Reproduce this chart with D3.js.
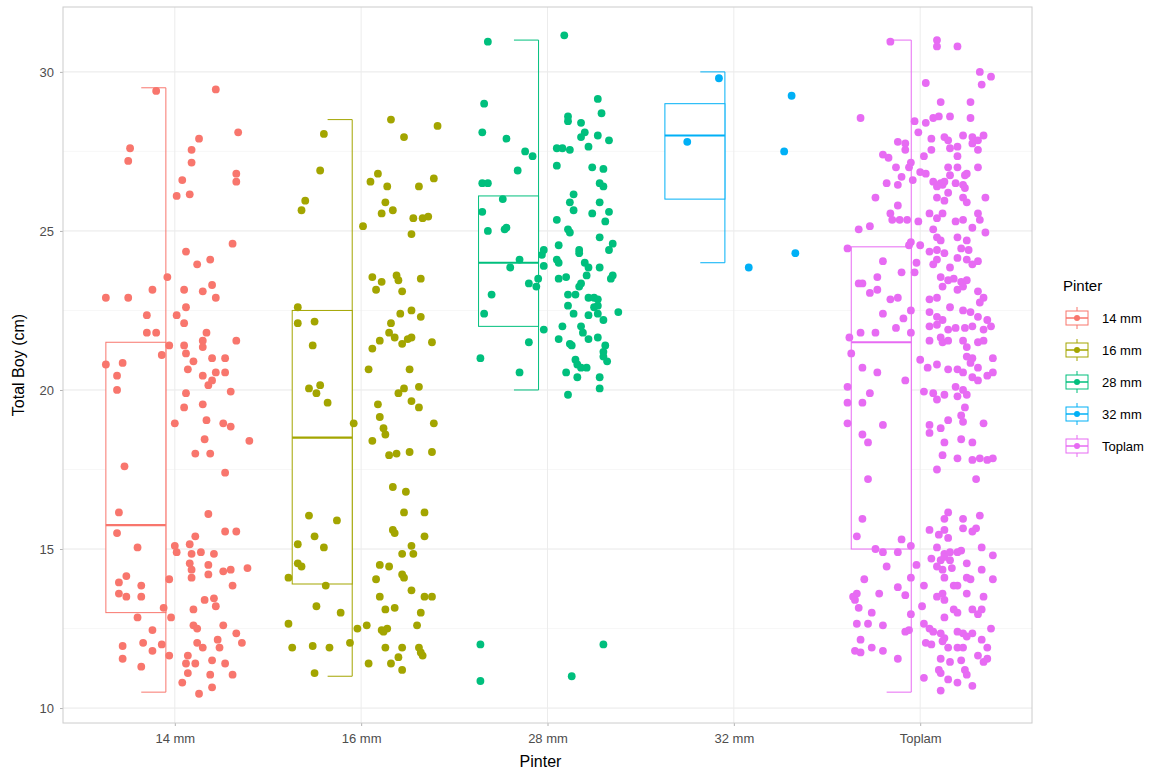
<!DOCTYPE html>
<html>
<head>
<meta charset="utf-8">
<script src="https://cdn.jsdelivr.net/npm/d3@7"></script>
<style>
  body { margin: 0; background: #fff; }
  text { font-family: "Liberation Sans", Arial, sans-serif; }
</style>
</head>
<body>
<div class="grap"></div>
<script>
// categories + colours (ggplot hue palette)
const categories = ["14 mm", "16 mm", "28 mm", "32 mm", "Toplam"];
const colors = ["#F8766D", "#A3A500", "#00BF7D", "#00B0F6", "#E76BF3"];

// boxplot stats
const whiskerLow  = [10.5, 11.0, 20.0, 24.0, 10.5];
const q1          = [13.0, 13.9, 22.0, 26.0, 15.0];
const median      = [15.75, 18.5, 24.0, 28.0, 21.5];
const q3          = [21.5, 22.5, 26.1, 29.0, 24.5];
const whiskerHigh = [29.5, 28.5, 31.0, 30.0, 31.0];

const yTicks = [10, 15, 20, 25, 30];
const yMinor = [12.5, 17.5, 22.5, 27.5];

// jittered points: [jitter (category units), Total Boy]
const pts14 = [[-0.10,29.4],[0.22,29.45],[0.34,28.1],[0.13,27.9],[-0.24,27.6],[0.09,27.55],[-0.25,27.2],[0.09,27.15],
[0.33,26.8],[0.33,26.55],[0.04,26.6],[0.01,26.1],[0.08,26.15],[0.31,24.6],[0.06,24.35],[0.12,23.95],[0.19,24.1],
[-0.04,23.55],[0.20,23.3],[-0.37,22.9],[-0.25,22.9],[-0.12,23.15],[0.05,23.15],[0.15,23.1],[0.22,22.9],[0.06,22.6],
[0.01,22.35],[0.05,22.1],[-0.15,22.35],[-0.15,21.8],[-0.10,21.8],[0.17,21.8],[0.15,21.55],[0.15,21.35],[0.33,21.55],
[-0.03,21.4],[-0.07,21.1],[0.05,21.4],[0.06,21.15],[-0.37,20.8],[-0.28,20.85],[0.10,20.9],[0.20,21.0],[0.27,21.0],
[0.07,20.65],[0.15,20.45],[0.22,20.55],[0.27,20.55],[0.20,20.3],[0.18,20.15],[-0.31,20.45],[-0.31,20.0],[0.06,19.9],
[0.30,19.95],[0.05,19.45],[0.15,19.55],[0.00,18.95],[0.17,19.05],[0.26,18.95],[0.30,18.85],[0.40,18.4],[0.16,18.45],
[0.11,18.0],[0.19,18.0],[0.27,17.4],[-0.27,17.6],[-0.30,16.15],[0.18,16.1],[-0.31,15.5],[0.27,15.55],[0.33,15.55],
[0.11,15.4],[0.00,15.1],[0.01,14.9],[0.08,15.15],[0.09,14.85],[0.14,14.9],[0.21,14.85],[-0.20,15.05],[0.08,14.55],
[0.09,14.35],[0.09,14.1],[0.18,14.5],[0.18,14.2],[0.26,14.3],[0.30,14.35],[0.39,14.4],[-0.03,14.05],[0.31,13.85],
[-0.26,14.15],[-0.30,13.95],[-0.18,13.85],[-0.18,13.5],[-0.30,13.6],[-0.26,13.5],[0.16,13.4],[0.21,13.45],[0.22,13.2],
[-0.06,13.15],[-0.20,12.85],[-0.02,12.85],[0.10,13.1],[0.10,12.6],[0.12,12.5],[0.26,12.6],[0.33,12.35],[0.36,12.05],
[-0.12,12.45],[-0.12,11.8],[-0.17,12.05],[-0.07,12.0],[-0.28,11.95],[-0.28,11.55],[0.12,12.05],[0.15,11.9],[0.23,12.15],
[0.24,11.9],[-0.03,11.65],[0.07,11.65],[0.06,11.4],[0.11,11.4],[0.20,11.5],[0.27,11.4],[-0.18,11.3],[0.07,11.1],
[0.04,10.8],[0.19,11.05],[0.31,11.05],[0.13,10.45],[0.20,10.65]];

const pts16 = [[-0.20,28.05],[0.16,28.5],[0.23,27.95],[0.41,28.3],[-0.22,26.9],[0.09,26.8],[0.05,26.55],[0.14,26.4],
[0.31,26.4],[0.39,26.65],[-0.30,25.95],[-0.32,25.65],[0.13,25.9],[0.11,25.55],[0.17,25.65],[0.28,25.4],[0.33,25.4],
[0.36,25.45],[0.01,25.15],[0.27,24.9],[0.06,23.55],[0.11,23.4],[0.19,23.6],[0.20,23.45],[0.32,23.5],[0.08,23.15],
[0.22,23.1],[-0.34,22.6],[-0.34,22.1],[-0.25,22.15],[0.21,22.4],[0.27,22.5],[0.32,22.3],[0.16,22.1],[0.15,21.8],
[0.18,21.65],[0.22,21.45],[0.25,21.6],[0.27,21.65],[0.38,21.5],[0.10,21.55],[0.06,21.3],[-0.26,21.4],[0.04,20.65],
[0.26,20.65],[-0.28,20.05],[-0.22,20.15],[-0.24,19.9],[0.20,19.9],[0.23,20.05],[0.31,20.1],[-0.18,19.6],[0.27,19.65],
[0.31,19.45],[0.09,19.55],[0.10,19.15],[0.12,18.8],[0.13,18.6],[0.39,18.95],[-0.04,18.95],[0.06,18.4],[0.15,17.95],
[0.19,18.0],[0.26,18.05],[0.38,18.05],[0.17,16.95],[0.24,16.8],[0.23,16.15],[0.34,16.15],[-0.28,16.05],[-0.13,15.9],
[0.17,15.6],[0.18,15.5],[0.34,15.4],[-0.25,15.4],[-0.20,15.05],[-0.34,15.15],[0.22,14.85],[0.27,15.1],[0.28,14.85],
[-0.34,14.55],[-0.32,14.45],[0.10,14.5],[0.15,14.45],[-0.39,14.1],[0.22,14.2],[0.23,14.1],[0.08,14.05],[-0.19,13.85],
[0.27,13.7],[0.10,13.5],[0.34,13.5],[0.38,13.5],[-0.24,13.2],[-0.11,13.0],[0.13,13.1],[0.18,13.15],[0.32,13.0],
[-0.39,12.65],[-0.02,12.5],[0.03,12.6],[0.11,12.45],[0.14,12.5],[0.12,12.4],[0.30,12.6],[-0.37,11.9],[-0.26,11.95],
[-0.17,11.9],[-0.06,12.05],[0.13,11.9],[0.22,11.9],[0.20,11.6],[0.31,11.9],[0.32,11.75],[0.33,11.65],[0.04,11.4],
[0.16,11.4],[0.22,11.2],[-0.25,11.1]];

const pts28 = [[-0.32,30.95],[0.09,31.15],[-0.34,29.0],[-0.35,28.1],[-0.22,27.9],[-0.12,27.5],[-0.08,27.35],[-0.16,26.9],
[-0.35,26.5],[-0.32,26.5],[-0.24,26.0],[-0.35,25.6],[-0.32,25.0],[-0.23,25.05],[-0.22,25.1],[-0.15,24.1],[-0.20,23.85],
[-0.10,23.35],[-0.06,23.25],[-0.05,23.5],[-0.30,23.0],[-0.34,22.4],[-0.36,21.0],[-0.15,20.55],[-0.10,21.5],
[0.27,29.15],[0.29,28.7],[0.11,28.6],[0.11,28.45],[0.18,28.4],[0.20,28.1],[0.18,27.95],[0.27,28.0],[0.33,27.85],
[0.22,27.65],[0.05,27.6],[0.08,27.6],[0.12,27.55],[0.05,27.05],[0.24,27.0],[0.30,26.95],[0.28,26.5],[0.30,26.4],
[0.14,26.15],[0.12,25.9],[0.14,25.65],[0.28,25.9],[0.24,25.55],[0.33,25.6],[0.31,25.3],[0.05,25.35],[0.11,25.05],
[0.12,24.95],[0.28,24.8],[0.35,24.6],[0.33,24.4],[-0.02,24.4],[-0.03,24.25],[0.06,24.55],[0.17,24.4],[0.17,24.3],
[0.05,24.1],[0.06,24.0],[-0.02,23.9],[0.20,24.0],[0.22,23.85],[0.21,23.6],[0.28,23.85],[0.35,23.6],[0.34,23.5],
[0.06,23.5],[0.10,23.55],[0.18,23.35],[0.17,23.25],[0.11,23.0],[0.15,23.0],[0.22,22.9],[0.25,22.9],[0.27,22.85],
[0.11,22.65],[0.25,22.6],[0.27,22.65],[0.14,22.4],[0.22,22.35],[0.27,22.4],[0.30,22.2],[0.38,22.45],[-0.02,21.9],
[0.08,22.0],[0.06,21.6],[0.18,22.0],[0.19,21.8],[0.22,21.6],[0.27,21.65],[0.31,21.4],[0.12,21.45],[0.13,21.4],
[0.30,21.2],[0.30,21.05],[0.32,20.9],[0.15,20.95],[0.16,20.8],[0.18,20.7],[0.21,20.7],[0.10,20.55],[0.16,20.4],
[0.28,20.4],[0.28,20.05],[0.11,19.85],[-0.36,12.0],[-0.36,10.85],[0.13,11.0],[0.30,12.0]];

const pts32 = [[-0.08,29.8],[0.31,29.25],[-0.25,27.8],[0.27,27.5],[0.33,24.3],[0.08,23.85]];

const ptsToplam = [[-0.16,30.95],[0.09,31.0],[0.09,30.8],[0.20,30.8],[0.32,30.0],[0.38,29.85],[0.33,29.6],[0.03,29.65],
[0.11,29.05],[0.27,29.05],[-0.32,28.55],[0.27,28.55],[-0.03,28.45],[0.03,28.4],[0.07,28.55],[0.10,28.6],[0.16,28.6],
[-0.01,28.1],[-0.12,27.8],[-0.08,27.75],[-0.08,27.55],[0.06,27.9],[0.13,27.95],[0.15,27.85],[0.20,27.65],[0.16,27.6],
[0.23,28.0],[0.28,27.95],[0.34,28.0],[0.31,27.85],[0.28,27.75],[0.31,27.55],[0.06,27.55],[0.02,27.35],[-0.20,27.4],
[-0.17,27.3],[0.20,27.35],[-0.13,27.0],[-0.05,27.15],[-0.06,27.0],[0.15,27.0],[0.20,27.0],[0.31,27.0],[0.00,26.85],
[0.03,26.8],[0.16,26.75],[0.25,26.8],[0.24,26.75],[-0.10,26.7],[-0.12,26.45],[-0.04,26.6],[-0.18,26.5],[0.07,26.55],
[0.11,26.5],[0.12,26.45],[0.09,26.4],[0.13,26.55],[0.19,26.5],[0.23,26.45],[0.24,26.35],[-0.24,26.05],[0.15,26.2],
[0.13,25.95],[0.09,26.05],[0.23,26.05],[0.25,25.9],[0.35,26.05],[-0.12,25.8],[-0.16,25.55],[-0.15,25.35],[-0.11,25.35],
[-0.07,25.35],[-0.01,25.3],[0.05,25.55],[0.09,25.4],[0.12,25.55],[0.19,25.3],[0.23,25.35],[0.31,25.55],[0.32,25.35],
[0.35,24.95],[-0.33,25.05],[-0.27,25.15],[0.07,25.05],[0.09,24.8],[0.11,24.7],[0.20,24.8],[0.25,24.7],[0.28,25.1],
[-0.05,24.65],[0.00,24.55],[0.05,24.35],[0.09,24.4],[0.22,24.45],[0.26,24.4],[-0.39,24.45],[-0.06,24.55],[-0.20,24.05],
[-0.23,23.55],[-0.10,23.7],[-0.33,23.35],[-0.31,23.35],[-0.27,23.05],[-0.23,23.15],[-0.16,22.85],[-0.12,22.9],
[-0.20,22.4],[-0.09,22.25],[-0.05,22.5],[-0.13,21.95],[-0.38,21.65],[-0.32,21.8],[-0.24,21.8],[-0.05,21.8],[-0.02,24.0],
[-0.03,23.7],[0.09,24.1],[0.07,23.95],[0.13,24.3],[0.16,23.85],[0.20,24.15],[0.25,24.1],[0.28,23.95],[0.31,24.05],
[0.11,23.55],[0.15,23.45],[0.18,23.5],[0.22,23.4],[0.25,23.45],[0.12,23.25],[0.20,23.15],[0.23,23.25],[0.05,22.85],
[0.09,22.9],[0.31,23.1],[0.34,22.9],[0.32,22.75],[0.05,22.45],[0.09,22.3],[0.12,22.2],[0.16,22.6],[0.23,22.5],
[0.27,22.45],[0.31,22.3],[0.36,22.2],[0.05,22.0],[0.09,22.05],[0.15,21.9],[0.19,21.95],[0.24,21.95],[0.28,22.0],
[0.34,21.9],[0.38,22.0],[0.05,21.55],[0.11,21.65],[0.12,21.5],[0.15,21.55],[0.23,21.55],[0.25,21.35],[0.31,21.5],
[0.34,21.55],[0.00,20.95],[0.04,20.7],[0.09,20.8],[0.15,20.65],[0.20,20.65],[0.25,21.05],[0.27,20.85],[0.28,21.0],
[0.31,20.7],[0.39,21.0],[0.39,20.55],[0.36,20.45],[0.23,20.55],[0.28,20.4],[0.31,20.3],[-0.37,21.15],[-0.31,20.7],
[-0.23,20.55],[-0.08,20.3],[-0.39,20.1],[-0.39,19.6],[-0.31,19.6],[-0.27,19.9],[0.02,19.95],[0.07,19.9],[0.09,19.7],
[0.13,19.85],[0.19,20.1],[0.23,20.0],[0.25,19.85],[0.20,19.8],[-0.39,18.95],[-0.20,18.9],[0.05,18.9],[0.11,18.8],
[0.05,18.65],[0.15,19.05],[0.22,19.2],[0.23,19.0],[0.24,19.45],[0.34,18.95],[-0.31,18.6],[-0.28,18.35],[0.13,18.35],
[0.22,18.45],[0.28,18.35],[0.12,17.95],[0.20,17.85],[0.09,17.5],[0.28,17.8],[0.32,17.85],[0.36,17.8],[0.39,17.85],
[-0.28,17.2],[0.30,17.2],[-0.31,15.95],[0.15,16.15],[0.13,15.95],[0.23,15.95],[0.32,16.05],[0.05,15.6],[0.10,15.45],
[0.13,15.6],[0.15,15.35],[0.23,15.65],[0.28,15.55],[0.30,15.65],[-0.34,15.4],[-0.10,15.3],[0.09,15.05],[0.13,14.85],
[0.16,14.9],[0.20,14.9],[0.22,14.95],[0.33,15.05],[0.39,14.8],[-0.24,15.0],[-0.20,14.9],[-0.12,14.9],[-0.05,15.1],
[0.06,14.7],[0.11,14.65],[0.13,14.75],[0.16,14.65],[-0.02,14.5],[-0.18,14.45],[0.09,14.45],[0.12,14.35],[0.17,14.4],
[0.25,14.55],[0.33,14.35],[0.13,14.1],[-0.05,14.1],[-0.30,14.05],[0.25,14.1],[0.27,14.05],[0.39,14.05],[0.02,13.85],
[0.18,13.85],[0.20,13.85],[-0.12,13.8],[-0.34,13.6],[-0.35,13.4],[-0.36,13.5],[-0.22,13.6],[-0.08,13.55],[0.09,13.5],
[0.12,13.6],[0.13,13.4],[0.25,13.6],[0.34,13.5],[0.01,13.2],[-0.33,13.15],[-0.26,13.0],[0.18,13.1],[0.20,13.0],
[0.28,13.1],[0.33,13.1],[0.31,12.95],[0.13,12.85],[-0.05,12.95],[-0.34,12.65],[-0.28,12.65],[-0.20,12.6],[0.02,12.65],
[0.05,12.5],[0.07,12.4],[0.11,12.35],[0.13,12.2],[0.12,12.1],[0.20,12.4],[0.23,12.35],[0.25,12.25],[0.28,12.35],
[0.38,12.5],[-0.08,12.4],[-0.06,12.45],[-0.32,12.15],[0.03,12.05],[0.06,12.0],[0.15,11.9],[0.20,11.9],[0.23,11.9],
[0.33,12.15],[0.36,11.9],[-0.35,11.8],[-0.32,11.75],[-0.26,11.9],[-0.20,11.8],[-0.12,11.55],[0.11,11.55],[0.16,11.45],
[0.22,11.5],[0.31,11.65],[0.36,11.55],[0.34,11.45],[0.10,11.2],[0.11,11.1],[0.24,11.2],[0.25,11.05],[0.02,10.95],
[0.15,10.9],[0.20,10.8],[0.28,10.7],[0.11,10.55]];

const pointSets = [pts14, pts16, pts28, pts32, ptsToplam];

const W = 1169, H = 778;
const margin = { top: 7, right: 137, bottom: 55, left: 63 };

const svg = d3.select(".grap").append("svg")
  .attr("width", W).attr("height", H);

const x = d3.scalePoint()
  .domain(categories)
  .range([margin.left, W - margin.right])
  .padding(0.6);
const step = x.step();

const y = d3.scaleLinear()
  .domain([9.53, 32.04])
  .range([H - margin.bottom, margin.top]);

// grid
const grid = svg.append("g");
grid.selectAll(".minor").data(yMinor).join("line")
  .attr("x1", margin.left).attr("x2", W - margin.right)
  .attr("y1", d => y(d)).attr("y2", d => y(d))
  .attr("stroke", "#f2f2f2").attr("stroke-width", 0.6);
grid.selectAll(".major").data(yTicks).join("line")
  .attr("x1", margin.left).attr("x2", W - margin.right)
  .attr("y1", d => y(d)).attr("y2", d => y(d))
  .attr("stroke", "#e8e8e8").attr("stroke-width", 1);
grid.selectAll(".vmajor").data(categories).join("line")
  .attr("x1", d => x(d)).attr("x2", d => x(d))
  .attr("y1", margin.top).attr("y2", H - margin.bottom)
  .attr("stroke", "#ececec").attr("stroke-width", 1);

// axes
const yAxis = g => g
  .attr("transform", `translate(${margin.left},0)`)
  .call(d3.axisLeft(y).tickValues(yTicks).tickSize(3).tickPadding(6))
  .call(g => g.select(".domain").remove())
  .call(g => g.selectAll(".tick line").attr("stroke", "#b3b3b3"))
  .call(g => g.selectAll(".tick text").attr("fill", "#4d4d4d").attr("font-size", 13)
    .attr("font-family", "Liberation Sans, Arial, sans-serif"));

const xAxis = g => g
  .attr("transform", `translate(0,${H - margin.bottom})`)
  .call(d3.axisBottom(x).tickSize(3).tickPadding(8))
  .call(g => g.select(".domain").remove())
  .call(g => g.selectAll(".tick line").attr("stroke", "#b3b3b3"))
  .call(g => g.selectAll(".tick text").attr("fill", "#4d4d4d").attr("font-size", 13)
    .attr("font-family", "Liberation Sans, Arial, sans-serif"));

svg.append("g").call(yAxis);
svg.append("g").call(xAxis);

// boxplots (half, left of centre, whisker on the right edge)
const boxL = -0.37, boxR = -0.048, capL = -0.18;
const boxes = svg.append("g");
categories.forEach((c, i) => {
  const cx = x(c);
  const g = boxes.append("g")
    .attr("stroke", colors[i]).attr("fill", "none");
  g.append("line")
    .attr("x1", cx + boxR * step).attr("x2", cx + boxR * step)
    .attr("y1", y(whiskerLow[i])).attr("y2", y(whiskerHigh[i]))
    .attr("stroke-width", 1);
  g.append("line")
    .attr("x1", cx + capL * step).attr("x2", cx + boxR * step)
    .attr("y1", y(whiskerHigh[i])).attr("y2", y(whiskerHigh[i]));
  g.append("line")
    .attr("x1", cx + capL * step).attr("x2", cx + boxR * step)
    .attr("y1", y(whiskerLow[i])).attr("y2", y(whiskerLow[i]));
  g.append("rect")
    .attr("x", cx + boxL * step)
    .attr("width", (boxR - boxL) * step)
    .attr("y", y(q3[i]))
    .attr("height", y(q1[i]) - y(q3[i]))
    .attr("fill", "white")
    .attr("stroke-width", 1);
  g.append("line")
    .attr("x1", cx + boxL * step).attr("x2", cx + boxR * step)
    .attr("y1", y(median[i])).attr("y2", y(median[i]))
    .attr("stroke-width", 2.2);
});

// jittered points
const points = svg.append("g");
categories.forEach((c, i) => {
  points.selectAll(null).data(pointSets[i]).join("circle")
    .attr("cx", d => x(c) + d[0] * step)
    .attr("cy", d => y(d[1]))
    .attr("r", 3.9)
    .attr("fill", colors[i]);
});

// panel border
svg.append("rect")
  .attr("x", margin.left).attr("y", margin.top)
  .attr("width", W - margin.right - margin.left)
  .attr("height", H - margin.bottom - margin.top)
  .attr("fill", "none").attr("stroke", "#cccccc").attr("stroke-width", 1);

// axis titles
svg.append("text")
  .attr("x", (margin.left + W - margin.right) / 2 - 7)
  .attr("y", 767)
  .attr("text-anchor", "middle")
  .attr("font-size", 16)
  .attr("fill", "#000")
  .text("Pinter");

svg.append("text")
  .attr("transform", `translate(24,${(margin.top + H - margin.bottom) / 2}) rotate(-90)`)
  .attr("text-anchor", "middle")
  .attr("font-size", 16)
  .attr("fill", "#000")
  .text("Total Boy (cm)");

// legend
const legend = svg.append("g").attr("transform", "translate(1063,0)");
legend.append("text")
  .attr("x", 0).attr("y", 291)
  .attr("font-size", 15)
  .text("Pinter");

const rowY = d3.scalePoint().domain(categories).range([318, 446]);
categories.forEach((c, i) => {
  const cy = rowY(c);
  const k = legend.append("g").attr("stroke", colors[i]).attr("fill", "none");
  k.append("line").attr("x1", 14).attr("x2", 14).attr("y1", cy - 11).attr("y2", cy + 11);
  k.append("rect").attr("x", 3).attr("y", cy - 7).attr("width", 22).attr("height", 14)
    .attr("fill", "white");
  k.append("line").attr("x1", 3).attr("x2", 25).attr("y1", cy).attr("y2", cy).attr("stroke-width", 1.5);
  legend.append("circle").attr("cx", 14).attr("cy", cy).attr("r", 3).attr("fill", colors[i]);
  legend.append("text")
    .attr("x", 39).attr("y", cy + 5)
    .attr("font-size", 13)
    .attr("fill", "#000")
    .text(c);
});
</script>
</body>
</html>
